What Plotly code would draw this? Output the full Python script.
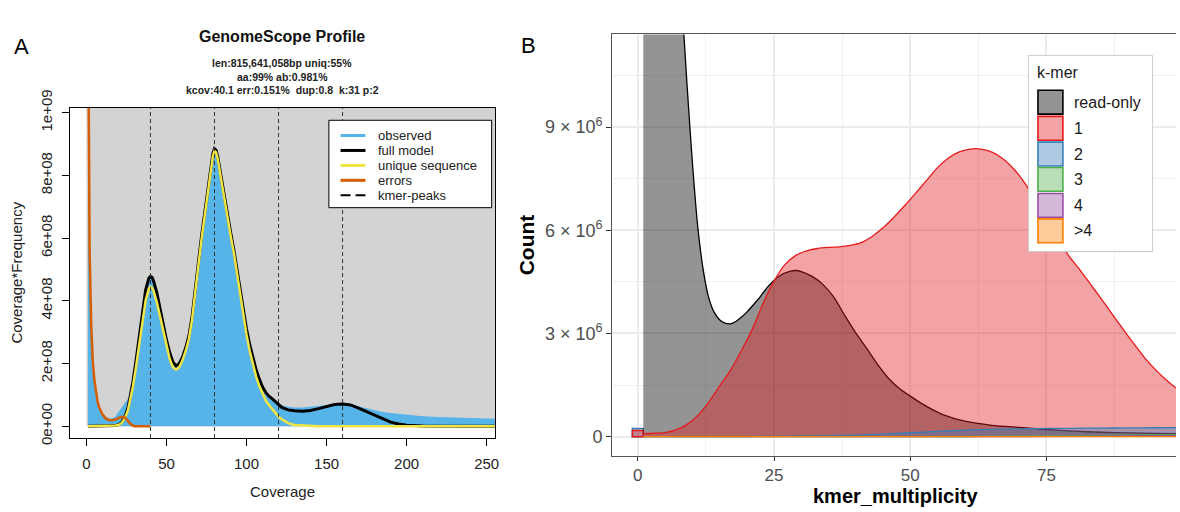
import plotly.graph_objects as go

W, H = 1180, 512
FONT = "Liberation Sans, Arial, Helvetica, sans-serif"

# ---------------- Panel A data (GenomeScope profile), y values in units of 1e8 ----------------
coverage = [1, 2, 3, 4, 5, 6, 7, 8, 10, 12, 14, 16, 18, 20, 22, 24, 26, 27, 29, 31, 33, 35, 37, 39,
            40, 41, 42, 44, 46, 48, 50, 52, 54, 56, 58, 60, 62, 64, 66, 68, 70, 72, 74, 76, 78, 79,
            80, 81, 82, 84, 86, 88, 90, 92, 94, 96, 98, 100, 102, 104, 106, 108, 110, 112, 114, 116,
            118, 120, 122, 126, 130, 135, 140, 145, 150, 155, 160, 165, 170, 175, 180, 185, 190, 195,
            200, 210, 220, 230, 240, 250, 256]
observed_e8 = [40, 6.0, 3.3, 2.1, 1.5, 1.1, 0.82, 0.62, 0.42, 0.3, 0.25, 0.25, 0.3, 0.45, 0.6, 0.75,
               0.88, 1.0, 1.45, 2.1, 2.85, 3.6, 4.3, 4.7, 4.77, 4.72, 4.6, 4.22, 3.78, 3.25, 2.78,
               2.38, 2.08, 1.96, 2.04, 2.25, 2.55, 2.92, 3.55, 4.35, 5.3, 6.12, 6.88, 7.62, 8.38,
               8.72, 8.86, 8.8, 8.62, 8.02, 7.32, 6.72, 6.2, 5.68, 5.02, 4.33, 3.72, 3.12, 2.62,
               2.18, 1.83, 1.52, 1.28, 1.1, 0.98, 0.92, 0.85, 0.75, 0.68, 0.62, 0.6, 0.6, 0.62,
               0.65, 0.68, 0.71, 0.72, 0.69, 0.63, 0.56, 0.5, 0.45, 0.42, 0.39, 0.36, 0.32, 0.29,
               0.27, 0.26, 0.25, 0.24]
full_model_e8 = [0, 0, 0, 0, 0, 0, 0, 0, 0, 0, 0, 0.01, 0.02, 0.05, 0.12, 0.3, 0.6, 0.86, 1.4, 2.1,
                 2.85, 3.6, 4.35, 4.72, 4.78, 4.75, 4.62, 4.25, 3.8, 3.25, 2.75, 2.35, 2.05, 1.92,
                 2.0, 2.2, 2.5, 2.88, 3.5, 4.3, 5.25, 6.1, 6.85, 7.6, 8.35, 8.7, 8.85, 8.8, 8.6,
                 8.0, 7.3, 6.7, 6.2, 5.65, 5.0, 4.3, 3.7, 3.1, 2.6, 2.15, 1.8, 1.5, 1.25, 1.08,
                 0.96, 0.88, 0.78, 0.67, 0.6, 0.52, 0.49, 0.48, 0.5, 0.56, 0.63, 0.69, 0.71, 0.68,
                 0.58, 0.47, 0.35, 0.23, 0.13, 0.07, 0.035, 0.01, 0, 0, 0, 0, 0]
unique_seq_e8 = [0, 0, 0, 0, 0, 0, 0, 0, 0, 0, 0, 0.01, 0.02, 0.04, 0.1, 0.26, 0.52, 0.76, 1.25, 1.9,
                 2.6, 3.3, 4.02, 4.38, 4.44, 4.42, 4.3, 3.95, 3.5, 3.0, 2.52, 2.15, 1.88, 1.8,
                 1.88, 2.1, 2.4, 2.78, 3.4, 4.2, 5.15, 6.0, 6.75, 7.52, 8.3, 8.62, 8.78, 8.73, 8.52,
                 7.92, 7.2, 6.6, 6.1, 5.55, 4.88, 4.15, 3.52, 2.92, 2.4, 1.95, 1.58, 1.28, 1.02,
                 0.82, 0.68, 0.55, 0.42, 0.3, 0.22, 0.1, 0.04, 0.02, 0.01, 0, 0, 0, 0, 0, 0, 0, 0,
                 0, 0, 0, 0, 0, 0, 0, 0, 0, 0]
errors_cov = [1, 2, 3, 4, 5, 6, 7, 8, 10, 12, 14, 16, 18, 20, 22, 24, 26, 28, 30, 35, 40]
errors_e8 = [14, 5.6, 3.2, 2.05, 1.45, 1.05, 0.78, 0.6, 0.38, 0.25, 0.2, 0.19, 0.21, 0.26, 0.3,
             0.28, 0.17, 0.05, 0.0, 0, 0]
kmer_peaks = [40, 80, 120, 160]
a_xticks = [0, 50, 100, 150, 200, 250]
a_yticks = [0, 2e8, 4e8, 6e8, 8e8, 1e9]
a_yticklabels = ["0e+00", "2e+08", "4e+08", "6e+08", "8e+08", "1e+09"]
a_title = "GenomeScope Profile"
a_subtitle = ["len:815,641,058bp uniq:55%", "aa:99% ab:0.981%",
              "kcov:40.1 err:0.151%\u00a0\u00a0dup:0.8\u00a0\u00a0k:31 p:2"]
a_legend_labels = ["observed", "full model", "unique sequence", "errors", "kmer-peaks"]

# ---------------- Panel B data (KAT spectra-cn), y values in units of 1e6 ----------------
mult_read_only = [1, 2, 3, 4, 5, 6, 7, 8, 9, 10, 11, 12, 13, 14, 15, 16, 17, 18, 19, 20, 22, 24, 26,
                  28, 29, 30, 32, 34, 36, 38, 40, 42, 44, 46, 48, 50, 53, 56, 60, 65, 70, 75, 80,
                  85, 90, 95, 100]
read_only_e6 = [80, 50, 35, 27, 21.5, 17.5, 14.8, 12.8, 10.3, 8.0, 6.1, 4.85, 4.05, 3.62, 3.4, 3.3,
                3.28, 3.35, 3.47, 3.62, 3.98, 4.38, 4.67, 4.81, 4.83, 4.8, 4.66, 4.42, 4.05, 3.52,
                3.02, 2.57, 2.1, 1.7, 1.4, 1.18, 0.88, 0.64, 0.45, 0.33, 0.27, 0.21, 0.16, 0.13,
                0.11, 0.095, 0.085]
mult_1 = [1, 3, 5, 7, 9, 11, 13, 15, 17, 19, 21, 23, 25, 27, 29, 31, 33, 35, 37, 39, 41, 43, 45, 47,
          49, 51, 53, 55, 57, 59, 61, 62, 63, 65, 67, 69, 71, 73, 75, 77, 79, 81, 83, 85, 87, 89,
          91, 93, 95, 97, 99, 100]
copy_1_e6 = [0.09, 0.1, 0.12, 0.2, 0.35, 0.62, 1.0, 1.47, 1.93, 2.5, 3.12, 3.88, 4.52, 5.0, 5.27,
             5.4, 5.47, 5.5, 5.52, 5.56, 5.64, 5.82, 6.07, 6.38, 6.72, 7.08, 7.45, 7.82, 8.1, 8.28,
             8.36, 8.37, 8.36, 8.27, 8.08, 7.78, 7.38, 6.88, 6.35, 5.8, 5.28, 4.88, 4.45, 4.02,
             3.58, 3.14, 2.71, 2.3, 1.95, 1.65, 1.39, 1.28]
mult_2 = [1, 10, 20, 25, 30, 35, 40, 45, 50, 55, 60, 65, 70, 75, 80, 85, 90, 95, 100]
copy_2_e6 = [0, 0, 0.005, 0.012, 0.02, 0.03, 0.045, 0.075, 0.115, 0.155, 0.19, 0.215, 0.23, 0.24,
             0.245, 0.25, 0.255, 0.26, 0.265]
mult_3 = [1, 20, 40, 60, 70, 80, 90, 100]
copy_3_e6 = [0, 0, 0, 0.005, 0.015, 0.03, 0.045, 0.06]
mult_4 = [1, 40, 60, 80, 90, 100]
copy_4_e6 = [0, 0, 0, 0.01, 0.02, 0.03]
mult_gt4 = [1, 100]
copy_gt4_e6 = [0, 0]
mult_zero = [0]
zero_copy_1_e6 = [0.18]
zero_copy_2_e6 = [0.24]
b_xticks = [0, 25, 50, 75, 100]
b_yticks = [0, 3e6, 6e6, 9e6]
b_yticklabels = ["0", "3 × 10<sup>6</sup>", "6 × 10<sup>6</sup>", "9 × 10<sup>6</sup>"]
b_legend_title = "k-mer"
b_legend_labels = ["read-only", "1", "2", "3", "4", ">4"]
b_colors = ["#000000", "#E41A1C", "#377EB8", "#4DAF4A", "#984EA3", "#FF7F00"]

# ---------------- styling ----------------
COL_OBS = "#56B4E9"
COL_BG = "#D3D3D3"
COL_UNIQ = "#F0E442"
COL_ERR = "#D55E00"
A_XRANGE = [-10.4, 255.2]
A_YRANGE = [-0.0377e9, 1.0161e9]
B_XRANGE = [-4.70, 98.78]
B_YRANGE = [-0.554e6, 11.69e6]


def rgba(hexcol, a):
    h = hexcol.lstrip("#")
    return "rgba(%d,%d,%d,%.2f)" % (int(h[0:2], 16), int(h[2:4], 16), int(h[4:6], 16), a)


def px(x):
    return x / W


def py(y):
    return 1 - y / H


def ann(text, x, y, size, color="#000000", angle=0, xanchor="center", yanchor="middle"):
    return dict(text=text, x=px(x), y=py(y), xref="paper", yref="paper", showarrow=False,
                font=dict(family=FONT, size=size, color=color), textangle=angle,
                xanchor=xanchor, yanchor=yanchor, borderpad=0)


fig = go.Figure()

# ----- Panel A traces -----
fig.add_trace(go.Scatter(x=coverage, y=[v * 1e8 for v in observed_e8], mode="lines",
                         line=dict(width=0, color=COL_OBS), fill="tozeroy", fillcolor=COL_OBS,
                         xaxis="x", yaxis="y", hoverinfo="skip", showlegend=False))
fig.add_trace(go.Scatter(x=coverage, y=[v * 1e8 for v in full_model_e8], mode="lines",
                         line=dict(width=3, color="#000000"), xaxis="x", yaxis="y",
                         hoverinfo="skip", showlegend=False))
fig.add_trace(go.Scatter(x=coverage, y=[v * 1e8 for v in unique_seq_e8], mode="lines",
                         line=dict(width=2.5, color=COL_UNIQ), xaxis="x", yaxis="y",
                         hoverinfo="skip", showlegend=False))
fig.add_trace(go.Scatter(x=errors_cov, y=[v * 1e8 for v in errors_e8], mode="lines",
                         line=dict(width=2.5, color=COL_ERR), xaxis="x", yaxis="y",
                         hoverinfo="skip", showlegend=False))

# ----- Panel B traces -----
fig.add_trace(go.Bar(x=mult_zero, y=[v * 1e6 for v in zero_copy_2_e6], width=2,
                     marker=dict(color=rgba(b_colors[2], 0.4), line=dict(color=b_colors[2], width=1.5)),
                     xaxis="x2", yaxis="y2", hoverinfo="skip", showlegend=False))
fig.add_trace(go.Bar(x=mult_zero, y=[v * 1e6 for v in zero_copy_1_e6], width=2,
                     marker=dict(color=rgba(b_colors[1], 0.4), line=dict(color=b_colors[1], width=1.5)),
                     xaxis="x2", yaxis="y2", hoverinfo="skip", showlegend=False))
b_series = [(mult_read_only, read_only_e6), (mult_1, copy_1_e6), (mult_2, copy_2_e6),
            (mult_3, copy_3_e6), (mult_4, copy_4_e6), (mult_gt4, copy_gt4_e6)]
for i, (xs, ys) in enumerate(b_series):
    alpha = 0.42 if i == 0 else 0.4
    fig.add_trace(go.Scatter(x=xs, y=[v * 1e6 for v in ys], mode="lines",
                             line=dict(width=1.3, color=b_colors[i], shape="spline", smoothing=0.6),
                             fill="tozeroy", fillcolor=rgba(b_colors[i], alpha),
                             xaxis="x2", yaxis="y2", hoverinfo="skip", showlegend=False))

shapes = []
# gray background of GenomeScope plot
shapes.append(dict(type="rect", xref="x", yref="y", x0=0, x1=A_XRANGE[1], y0=0, y1=A_YRANGE[1],
                   fillcolor=COL_BG, line=dict(width=0), layer="below"))
# kmer peaks
for p in kmer_peaks:
    shapes.append(dict(type="line", xref="x", yref="y domain", x0=p, x1=p, y0=0, y1=1,
                       line=dict(color="#333333", width=1, dash="4px,3px")))
# Panel A legend
shapes.append(dict(type="rect", xref="paper", yref="paper", x0=px(330), x1=px(493.3),
                   y0=py(199), y1=py(107.3), fillcolor="white", line=dict(color="#000000", width=1)))
a_leg_styles = [(COL_OBS, "solid", 3), ("#000000", "solid", 3), (COL_UNIQ, "solid", 3),
                (COL_ERR, "solid", 3), ("#000000", "10px,5px", 2.2)]
annotations = []
for i, lab in enumerate(a_legend_labels):
    yy = 123.3 + i * 15.67
    col, dash, wd = a_leg_styles[i]
    shapes.append(dict(type="line", xref="paper", yref="paper", x0=px(341.7), x1=px(366.7),
                       y0=py(yy), y1=py(yy), line=dict(color=col, width=wd, dash=dash)))
    annotations.append(ann(lab, 378.3, yy, 13, "#222222", xanchor="left"))

# Panel B legend
shapes.append(dict(type="rect", xref="paper", yref="paper", x0=px(1032), x1=px(1156.5),
                   y0=py(245), y1=py(39.3), fillcolor="white", line=dict(color="#CCCCCC", width=1)))
annotations.append(ann(b_legend_title, 1040, 57.7, 16, "#1A1A1A", xanchor="left"))
b_rows = [88.3, 115.7, 142.7, 169.3, 196.7, 223.3]
for i, lab in enumerate(b_legend_labels):
    yy = b_rows[i]
    alpha = 0.42 if i == 0 else 0.4
    shapes.append(dict(type="rect", xref="paper", yref="paper", x0=px(1041.5), x1=px(1066.5),
                       y0=py(yy + 12.5), y1=py(yy - 12.5), fillcolor=rgba(b_colors[i], alpha),
                       line=dict(color=b_colors[i], width=1.6)))
    annotations.append(ann(lab, 1076.7, yy, 16, "#1A1A1A", xanchor="left"))

# titles and labels
annotations.append(ann("A", 21.7, 30, 22))
annotations.append(ann("B", 530.5, 29.3, 22))
annotations.append(ann("<b>" + a_title + "</b>", 283.3, 19, 16, "#111111"))
for i, line in enumerate(a_subtitle):
    annotations.append(ann("<b>" + line + "</b>", 283.3, [47.5, 61.5, 75.5][i], 10.5, "#222222"))
annotations.append(ann("Coverage", 283.3, 497, 15, "#222222"))
annotations.append(ann("Coverage*Frequency", 16.7, 267.5, 15, "#222222", angle=-90))
annotations.append(ann("<b>kmer_multiplicity</b>", 899, 501.5, 20, "#000000"))
annotations.append(ann("<b>Count</b>", 528, 238.3, 21, "#000000", angle=-90))

fig.update_layout(
    width=W, height=H, margin=dict(l=0, r=0, t=0, b=0),
    paper_bgcolor="white", plot_bgcolor="white", showlegend=False, barmode="overlay",
    font=dict(family=FONT),
    xaxis=dict(domain=[px(70), px(496.7)], range=A_XRANGE, anchor="y",
               tickmode="array", tickvals=a_xticks, ticks="outside", ticklen=7,
               tickcolor="#000000", tickwidth=1, showline=True, mirror=True,
               linecolor="#000000", linewidth=1, showgrid=False, zeroline=False,
               ticklabelstandoff=5,
               tickfont=dict(family=FONT, size=15, color="#222222")),
    yaxis=dict(domain=[py(440.7), py(94)], range=A_YRANGE, anchor="x",
               tickmode="array", tickvals=a_yticks, ticktext=a_yticklabels, tickangle=-90,
               ticks="outside", ticklen=7, tickcolor="#000000", tickwidth=1,
               showline=True, mirror=True, linecolor="#000000", linewidth=1,
               showgrid=False, zeroline=False, ticklabelstandoff=4,
               tickfont=dict(family=FONT, size=15, color="#222222")),
    xaxis2=dict(domain=[px(614.3), 1.0], range=B_XRANGE, anchor="y2",
                tickmode="array", tickvals=b_xticks, ticks="outside", ticklen=4,
                tickcolor="#333333", tickwidth=1, showline=True, mirror=True,
                linecolor="#555555", linewidth=1, showgrid=True, gridcolor="#EBEBEB",
                gridwidth=1.5, zeroline=False,
                minor=dict(tickvals=[12.5, 37.5, 62.5, 87.5], showgrid=True,
                           gridcolor="#F0F0F0", gridwidth=0.8),
                tickfont=dict(family=FONT, size=17, color="#4D4D4D")),
    yaxis2=dict(domain=[py(459.3), py(17.3)], range=B_YRANGE, anchor="x2",
                tickmode="array", tickvals=b_yticks, ticktext=b_yticklabels,
                ticks="outside", ticklen=5, tickcolor="#333333", tickwidth=1,
                showline=True, mirror=False, linecolor="#555555", linewidth=1,
                showgrid=True, gridcolor="#EBEBEB", gridwidth=1.5, zeroline=False,
                minor=dict(tickvals=[1.5e6, 4.5e6, 7.5e6, 10.5e6], showgrid=True,
                           gridcolor="#F0F0F0", gridwidth=0.8),
                tickfont=dict(family=FONT, size=18, color="#4D4D4D")),
    shapes=shapes, annotations=annotations,
)

fig.write_html("out.html", config={"displayModeBar": False},
               post_script="document.body.style.margin='0';document.body.style.padding='0';"
                           "document.body.style.overflow='hidden';")
